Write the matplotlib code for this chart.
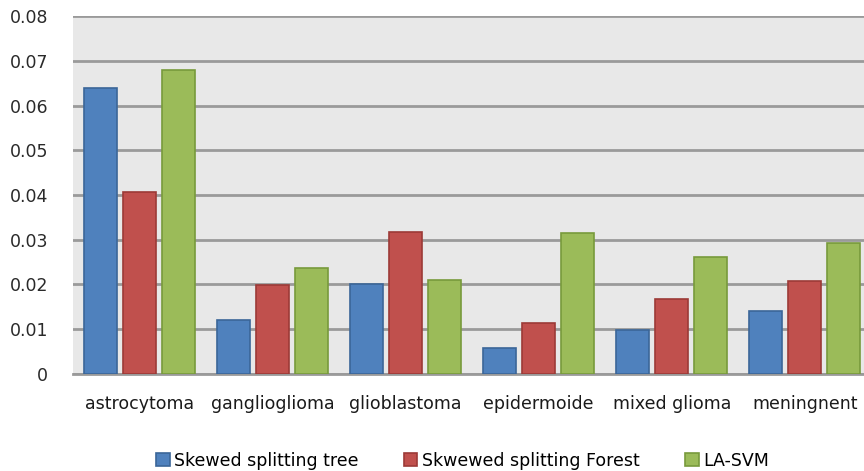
import matplotlib
matplotlib.use("Agg")
import matplotlib.pyplot as plt
import numpy as np

# data
categories = ["astrocytoma", "ganglioglioma", "glioblastoma",
              "epidermoide", "mixed glioma", "meningnent"]
series_names = ["Skewed splitting tree", "Skwewed splitting Forest", "LA-SVM"]
tree = [0.064, 0.0121, 0.0201, 0.0058, 0.0098, 0.0141]
forest = [0.0407, 0.0199, 0.0317, 0.0114, 0.0168, 0.0208]
lasvm = [0.0679, 0.0237, 0.0211, 0.0314, 0.0262, 0.0292]
yticks = [0, 0.01, 0.02, 0.03, 0.04, 0.05, 0.06, 0.07, 0.08]
ytick_labels = ["0", "0.01", "0.02", "0.03", "0.04", "0.05", "0.06", "0.07", "0.08"]

# Excel 2007 palette
FACES = ["#4F81BD", "#C0504D", "#9BBB59"]
EDGES = ["#3B6698", "#9C3A37", "#789A3C"]

plt.rcParams["font.family"] = ["DejaVu Sans"]

fig = plt.figure(figsize=(8.64, 4.71), dpi=100)
ax = fig.add_axes([0.0845, 0.206, 0.924, 0.760])
ax.set_facecolor("#e8e8e8")

x = np.arange(len(categories))
width = 0.25
step = 0.293
for i, vals in enumerate([tree, forest, lasvm]):
    ax.bar(x + (i - 1) * step, vals, width, color=FACES[i], edgecolor=EDGES[i],
           linewidth=1.2, label=series_names[i], zorder=3)

ax.set_xlim(-0.5, len(categories) - 0.5)
ax.set_ylim(0, 0.08)
ax.set_yticks(yticks)
ax.set_yticklabels(ytick_labels, fontsize=12.5, color="#2a2a2a")
ax.set_xticks(x)
ax.set_xticklabels(categories, fontsize=12.5, color="#1a1a1a")
ax.yaxis.grid(True, color="#9a9a9a", linewidth=2, zorder=0)
ax.set_axisbelow(True)
for side in ("top", "right", "left"):
    ax.spines[side].set_visible(False)
ax.spines["bottom"].set_color("#9a9a9a")
ax.spines["bottom"].set_linewidth(2)
ax.tick_params(axis="y", length=0, pad=18)
ax.tick_params(axis="x", length=0, pad=15)

fig.legend(loc="lower center", bbox_to_anchor=(0.535, -0.03), ncol=3,
           frameon=False, fontsize=12.5, handlelength=0.8, handleheight=0.8,
           handletextpad=0.25, columnspacing=2.6)

fig.savefig("out.png", dpi=100)
